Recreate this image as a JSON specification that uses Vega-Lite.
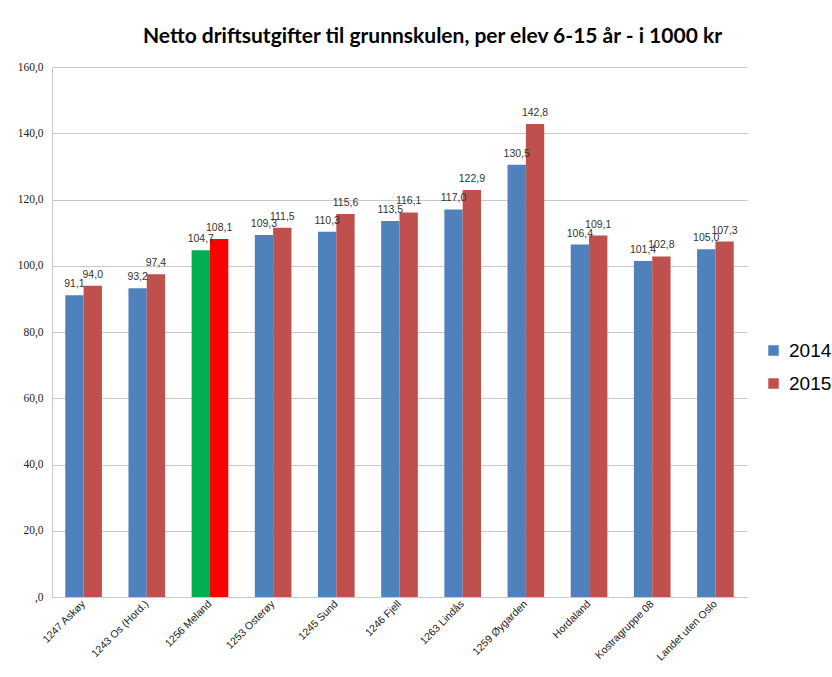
{
  "$schema": "https://vega.github.io/schema/vega-lite/v6.json",
  "width": 695,
  "height": 530,
  "autosize": {"type": "none"},
  "padding": {"left": 52, "top": 67, "right": 85, "bottom": 80},
  "background": "white",
  "config": {
    "locale": {"number": {"decimal": ",", "thousands": " ", "grouping": [3], "currency": ["", " kr"]}},
    "view": {"stroke": null},
    "axis": {"labelColor": "#222222"}
  },
  "title": {
    "text": "Netto driftsutgifter til grunnskulen, per elev 6-15 år - i 1000 kr",
    "font": "Lato",
    "fontWeight": "bold",
    "fontSize": 21,
    "color": "#000000",
    "anchor": "middle",
    "dx": 33,
    "offset": 14
  },
  "data": {
    "values": [
      {"kommune": "1247 Askøy", "year": "2014", "serie": "2014", "value": 91.1},
      {"kommune": "1247 Askøy", "year": "2015", "serie": "2015", "value": 94.0},
      {"kommune": "1243 Os (Hord.)", "year": "2014", "serie": "2014", "value": 93.2},
      {"kommune": "1243 Os (Hord.)", "year": "2015", "serie": "2015", "value": 97.4},
      {"kommune": "1256 Meland", "year": "2014", "serie": "Meland 2014", "value": 104.7},
      {"kommune": "1256 Meland", "year": "2015", "serie": "Meland 2015", "value": 108.1},
      {"kommune": "1253 Osterøy", "year": "2014", "serie": "2014", "value": 109.3},
      {"kommune": "1253 Osterøy", "year": "2015", "serie": "2015", "value": 111.5},
      {"kommune": "1245 Sund", "year": "2014", "serie": "2014", "value": 110.3},
      {"kommune": "1245 Sund", "year": "2015", "serie": "2015", "value": 115.6},
      {"kommune": "1246 Fjell", "year": "2014", "serie": "2014", "value": 113.5},
      {"kommune": "1246 Fjell", "year": "2015", "serie": "2015", "value": 116.1},
      {"kommune": "1263 Lindås", "year": "2014", "serie": "2014", "value": 117.0},
      {"kommune": "1263 Lindås", "year": "2015", "serie": "2015", "value": 122.9},
      {"kommune": "1259 Øygarden", "year": "2014", "serie": "2014", "value": 130.5},
      {"kommune": "1259 Øygarden", "year": "2015", "serie": "2015", "value": 142.8},
      {"kommune": "Hordaland", "year": "2014", "serie": "2014", "value": 106.4},
      {"kommune": "Hordaland", "year": "2015", "serie": "2015", "value": 109.1},
      {"kommune": "Kostragruppe 08", "year": "2014", "serie": "2014", "value": 101.4},
      {"kommune": "Kostragruppe 08", "year": "2015", "serie": "2015", "value": 102.8},
      {"kommune": "Landet uten Oslo", "year": "2014", "serie": "2014", "value": 105.0},
      {"kommune": "Landet uten Oslo", "year": "2015", "serie": "2015", "value": 107.3}
    ]
  },
  "encoding": {
    "x": {
      "field": "kommune",
      "type": "nominal",
      "sort": null,
      "scale": {"paddingInner": 0.42, "paddingOuter": 0.21},
      "axis": {
        "title": null,
        "labelAngle": -45,
        "labelAlign": "right",
        "labelBaseline": "middle",
        "labelFont": "Liberation Sans",
        "labelFontSize": 10.5,
        "labelPadding": 5,
        "ticks": false,
        "domainColor": "#c8c8c8",
        "grid": false
      }
    },
    "xOffset": {"field": "year", "type": "nominal", "sort": ["2014", "2015"]},
    "y": {
      "field": "value",
      "type": "quantitative",
      "scale": {"domain": [0, 160], "nice": false},
      "axis": {
        "title": null,
        "values": [0, 20, 40, 60, 80, 100, 120, 140, 160],
        "format": ".1f",
        "labelExpr": "datum.value === 0 ? ',0' : datum.label",
        "labelFont": "Liberation Serif",
        "labelFontSize": 11.5,
        "labelPadding": 9,
        "ticks": false,
        "domain": true,
        "domainColor": "#c8c8c8",
        "gridColor": "#c8c8c8",
        "gridWidth": 1
      }
    }
  },
  "layer": [
    {
      "mark": {"type": "bar"},
      "encoding": {
        "color": {
          "field": "serie",
          "type": "nominal",
          "scale": {
            "domain": ["2014", "2015", "Meland 2014", "Meland 2015"],
            "range": ["#4F81BD", "#C0504D", "#00B050", "#FF0000"]
          },
          "legend": {
            "values": ["2014", "2015"],
            "title": null,
            "orient": "none",
            "legendX": 712,
            "legendY": 274,
            "symbolType": "square",
            "symbolSize": 110,
            "symbolStrokeWidth": 0,
            "labelFont": "Liberation Sans",
            "labelFontSize": 19,
            "labelColor": "#000000",
            "rowPadding": 13,
            "labelOffset": 6
          }
        }
      }
    },
    {
      "mark": {"type": "text", "dy": -11, "font": "Liberation Sans", "fontSize": 10.5, "color": "#333333"},
      "encoding": {
        "text": {"field": "value", "type": "quantitative", "format": ".1f"}
      }
    }
  ]
}
